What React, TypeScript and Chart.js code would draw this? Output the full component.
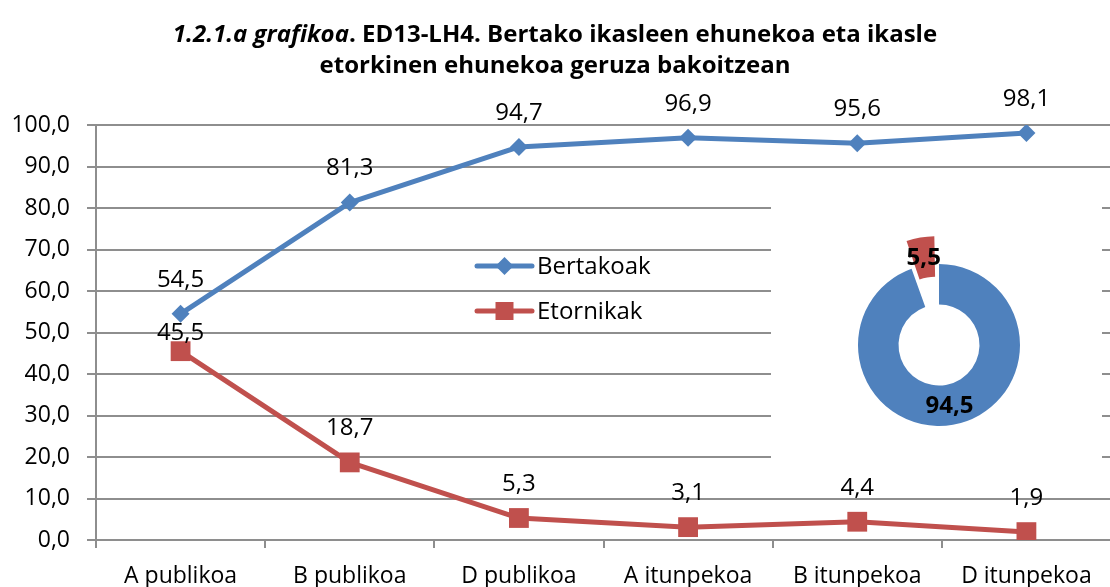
import React, { useEffect, useRef } from "react";
import { Chart, registerables } from "chart.js";

Chart.register(...registerables);

// ---- data ----
const categories = ["A publikoa", "B publikoa", "D publikoa", "A itunpekoa", "B itunpekoa", "D itunpekoa"];
const bertakoak = [54.5, 81.3, 94.7, 96.9, 95.6, 98.1];
const etorkinak = [45.5, 18.7, 5.3, 3.1, 4.4, 1.9];
const seriesNames = ["Bertakoak", "Etornikak"];
const yTickValues = [0, 10, 20, 30, 40, 50, 60, 70, 80, 90, 100];
const totalNames = ["Bertakoak", "Etorkinak"];
const totalValues = [94.5, 5.5];

// ---- style ----
const BLUE = "#4F81BD";
const RED = "#C0504D";
const GRID = "#8e8e8e";
const FONT = '"Open Sans", "Noto Sans", sans-serif';
// Chart.js 4 translates an arc by offset / 4 (and grows its radii a little)
const ARC_OFFSET = 67.5;
const DONUT_SIZE = 300;
const DONUT_RADIUS = 81;

const fmt = (v: number) => v.toFixed(1).replace(".", ",");

const pointLabelPlugin = {
  id: "pointLabels",
  afterDatasetsDraw(chart: any) {
    const ctx = chart.ctx;
    ctx.save();
    ctx.font = `24px ${FONT}`;
    ctx.fillStyle = "#000";
    ctx.textAlign = "center";
    ctx.textBaseline = "middle";
    chart.data.datasets.forEach((ds: any, i: number) => {
      const meta = chart.getDatasetMeta(i);
      const offsets: number[] = ds.labelOffsets || [];
      meta.data.forEach((pt: any, j: number) => {
        const off = offsets[j] ?? 34;
        ctx.fillText(fmt(ds.data[j]), pt.x, pt.y - off);
      });
    });
    ctx.restore();
  },
};

const insideLegendPlugin = {
  id: "insideLegend",
  afterDatasetsDraw(chart: any, _args: any, opts: any) {
    const ctx = chart.ctx;
    ctx.save();
    chart.data.datasets.forEach((ds: any, i: number) => {
      const y = opts.y + i * opts.rowGap;
      const x0 = opts.x;
      const x1 = opts.x + opts.lineLength;
      const cx = (x0 + x1) / 2;
      ctx.strokeStyle = ds.borderColor;
      ctx.lineWidth = 5;
      ctx.lineCap = "round";
      ctx.beginPath();
      ctx.moveTo(x0, y);
      ctx.lineTo(x1, y);
      ctx.stroke();
      ctx.fillStyle = ds.borderColor;
      ctx.beginPath();
      if (ds.pointStyle === "rectRot") {
        const r = 9;
        ctx.moveTo(cx - r, y);
        ctx.lineTo(cx, y - r);
        ctx.lineTo(cx + r, y);
        ctx.lineTo(cx, y + r);
        ctx.closePath();
      } else {
        const h = 9;
        ctx.rect(cx - h, y - h, 2 * h, 2 * h);
      }
      ctx.fill();
      ctx.fillStyle = "#000";
      ctx.font = `24px ${FONT}`;
      ctx.textAlign = "left";
      ctx.textBaseline = "middle";
      ctx.fillText(ds.label, x1 + 5, y + 1);
    });
    ctx.restore();
  },
};

const donutLabelPlugin = {
  id: "donutLabels",
  afterDatasetsDraw(chart: any) {
    const ctx = chart.ctx;
    const ds = chart.data.datasets[0];
    const meta = chart.getDatasetMeta(0);
    ctx.save();
    ctx.font = `bold 24px ${FONT}`;
    ctx.fillStyle = "#000";
    ctx.textAlign = "center";
    ctx.textBaseline = "middle";
    meta.data.forEach((arc: any, i: number) => {
      const { x, y, startAngle, endAngle, innerRadius, outerRadius } = arc;
      const t = ((arc.options && arc.options.offset) || 0) / 4;
      const circ = endAngle - startAngle;
      const fix = 1 - Math.sin(Math.min(Math.PI, circ));
      const mid = (startAngle + endAngle) / 2;
      const r = (innerRadius + outerRadius) / 2 + t + t * fix;
      ctx.fillText(fmt(ds.data[i]), x + Math.cos(mid) * r, y + Math.sin(mid) * r + 1);
    });
    ctx.restore();
  },
};

export default function App() {
  const lineRef = useRef<HTMLCanvasElement | null>(null);
  const donutRef = useRef<HTMLCanvasElement | null>(null);

  useEffect(() => {
    const tickFont = { family: FONT, size: 23 };
    const line = new Chart(lineRef.current as HTMLCanvasElement, {
      type: "line",
      data: {
        labels: categories,
        datasets: [
          {
            label: seriesNames[0],
            data: bertakoak,
            borderColor: BLUE,
            backgroundColor: BLUE,
            borderWidth: 5,
            pointStyle: "rectRot",
            pointRadius: 9,
            pointBorderWidth: 0,
            borderCapStyle: "round",
            borderJoinStyle: "round",
            tension: 0,
          } as any,
          {
            label: seriesNames[1],
            data: etorkinak,
            borderColor: RED,
            backgroundColor: RED,
            borderWidth: 5,
            pointStyle: "rect",
            pointRadius: 14,
            pointBorderWidth: 0,
            borderCapStyle: "round",
            borderJoinStyle: "round",
            tension: 0,
            labelOffsets: [18],
          } as any,
        ],
      },
      options: {
        responsive: false,
        animation: false,
        devicePixelRatio: 1,
        events: [],
        layout: { padding: { top: 125, right: 5, left: 0, bottom: 0 } },
        plugins: {
          legend: { display: false },
          tooltip: { enabled: false },
          title: { display: false },
          insideLegend: { x: 477, y: 266, rowGap: 45, lineLength: 55 },
        } as any,
        scales: {
          x: {
            offset: true,
            grid: {
              offset: true,
              drawOnChartArea: false,
              drawTicks: true,
              tickLength: 8,
              color: GRID,
              lineWidth: 2,
            },
            border: { color: GRID, width: 2 },
            ticks: { font: tickFont, color: "#000", padding: 15, maxRotation: 0, autoSkip: false },
            afterFit: (s: any) => {
              s.height = 47;
            },
          },
          y: {
            min: yTickValues[0],
            max: yTickValues[yTickValues.length - 1],
            ticks: {
              stepSize: yTickValues[1] - yTickValues[0],
              font: tickFont,
              color: "#000",
              padding: 17,
              callback: (v: any) => fmt(Number(v)),
            },
            grid: { color: GRID, lineWidth: 2, tickLength: 9, drawTicks: true },
            border: { color: GRID, width: 2 },
            afterFit: (s: any) => {
              s.width = 96;
            },
          },
        },
      },
      plugins: [pointLabelPlugin, insideLegendPlugin],
    });

    const donut = new Chart(donutRef.current as HTMLCanvasElement, {
      type: "doughnut",
      data: {
        labels: totalNames,
        datasets: [
          {
            data: totalValues,
            backgroundColor: [BLUE, RED],
            borderWidth: 0,
            offset: [0, ARC_OFFSET],
          } as any,
        ],
      },
      options: {
        responsive: false,
        animation: false,
        devicePixelRatio: 1,
        events: [],
        cutout: "50%",
        rotation: 0,
        layout: { padding: (DONUT_SIZE - 2 * DONUT_RADIUS - ARC_OFFSET) / 2 },
        plugins: { legend: { display: false }, tooltip: { enabled: false } },
      } as any,
      plugins: [donutLabelPlugin],
    });

    return () => {
      line.destroy();
      donut.destroy();
    };
  }, []);

  return (
    <div
      style={{
        position: "absolute",
        left: 0,
        top: 0,
        width: 1110,
        height: 587,
        overflow: "hidden",
        background: "#fff",
      }}
    >
      <canvas
        ref={lineRef}
        width={1125}
        height={587}
        style={{ position: "absolute", left: 0, top: 0, width: 1125, height: 587 }}
      />
      <div
        style={{
          position: "absolute",
          left: 771,
          top: 190,
          width: 331,
          height: 280,
          background: "#fff",
        }}
      />
      <canvas
        ref={donutRef}
        width={DONUT_SIZE}
        height={DONUT_SIZE}
        style={{ position: "absolute", left: 789, top: 195, width: DONUT_SIZE, height: DONUT_SIZE }}
      />
      <div
        style={{
          position: "absolute",
          left: 0,
          top: 17,
          width: 1110,
          textAlign: "center",
          fontFamily: FONT,
          fontWeight: "bold",
          fontSize: 24,
          lineHeight: "31px",
          color: "#000",
        }}
      >
        <span style={{ fontStyle: "italic" }}>1.2.1.a grafikoa</span>. ED13-LH4. Bertako ikasleen ehunekoa eta ikasle
        <br />
        etorkinen ehunekoa geruza bakoitzean
      </div>
    </div>
  );
}
